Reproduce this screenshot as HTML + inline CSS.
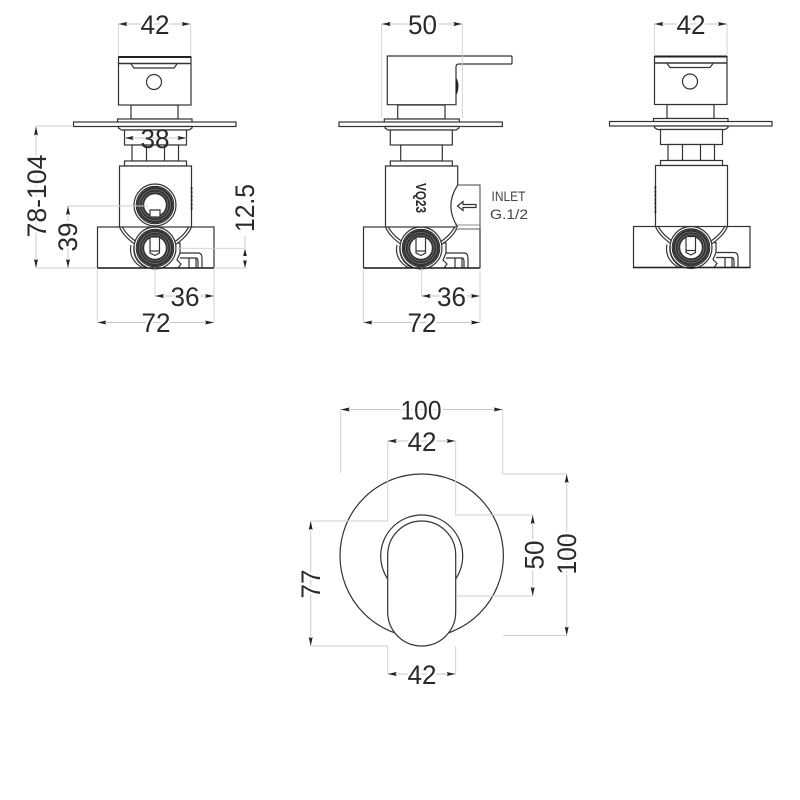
<!DOCTYPE html>
<html>
<head>
<meta charset="utf-8">
<style>
html,body{margin:0;padding:0;background:#fff;width:800px;height:800px;overflow:hidden}
svg{display:block}
text{font-family:"Liberation Sans",sans-serif;fill:#2a2a2a}
.d{font-size:27px;text-anchor:middle;paint-order:stroke;stroke:#fff;stroke-width:5px}
.n{font-size:27px;text-anchor:middle}
.s{fill:none;stroke:#333;stroke-width:1.2}
.w{fill:#fff;stroke:#333;stroke-width:1.2}
.e{fill:none;stroke:#cfcfcf;stroke-width:.9}
.a{fill:none;stroke:#c6c6c6;stroke-width:.9;marker-start:url(#ar);marker-end:url(#ar)}
</style>
</head>
<body>
<svg width="800" height="800" viewBox="0 0 800 800" xmlns="http://www.w3.org/2000/svg">
<defs>
<marker id="ar" viewBox="0 0 9 4" refX="9" refY="2" markerWidth="9" markerHeight="4" markerUnits="userSpaceOnUse" orient="auto-start-reverse">
<path d="M9 2L0 0L1.2 2L0 4Z" fill="#222"/>
</marker>
<g id="ring">
<circle r="21" fill="#fff" stroke="#333" stroke-width="1.2"/>
<circle r="18.8" fill="#fff" stroke="#222" stroke-width="1"/>
<circle r="14.5" fill="none" stroke="#333" stroke-width="7.400"/>
<circle r="15.500" fill="none" stroke="#8a8a8a" stroke-width=".6"/>
<circle r="13" fill="none" stroke="#8a8a8a" stroke-width=".6"/>
</g>
<g id="low">
<rect x="97.5" y="227" width="116.5" height="41" class="w" stroke-width="1.4"/>
<path class="s" d="M119.5 227C123 235 129 240 136 245M122 226.5C126 234 131 238 138 243M191.5 227C188 235 182 240 175 245M189 226.5C185 234 180 238 173 243"/>
<path class="s" d="M131 245C129 254 133 263 143 268M134 246C133 254 136 262 146 268" stroke-width="1"/>
<path class="s" d="M177 243H180V253L177 260L181 264L178 268"/>
<path class="s" d="M180 253H198Q202 253 202 258V268M180 258H196Q198 258 198 262V268M189 258V268M196 258V268"/>
<use href="#ring" x="155" y="248"/>
<path class="w" d="M150 237H159.5V253L155 255.5L150 253Z" stroke-width="1"/>
<path class="s" d="M150 251H159.5" stroke-width=".7"/>
<line x1="97" y1="268" x2="214" y2="268" stroke="#222" stroke-width="1.5"/>
</g>
<g id="top">
<path class="w" d="M131 105H178V119H131Z"/>
<rect x="118.5" y="57" width="72.5" height="48" class="w"/>
<path d="M118.5 57H191" stroke="#222" stroke-width="2" fill="none"/>
<path d="M118.5 63.5H191" stroke="#333" stroke-width="1.6" fill="none"/>
<path class="s" d="M131 64L134 68H174L177 64"/>
<circle cx="154" cy="82" r="7.5" class="w"/>
<rect x="117.5" y="119" width="74.5" height="3.5" class="w"/>
<rect x="73.5" y="122" width="162.5" height="4.5" class="w"/>
<path class="w" d="M118.5 126.5H192V128L189 130H121.5L118.5 128Z"/>
<rect x="124.5" y="130" width="62" height="15" class="w"/>
<rect x="132" y="145" width="46.5" height="16" class="w"/>
<path class="s" d="M146.5 145V161M164.5 145V161"/>
<rect x="124.5" y="161" width="62" height="5" class="w"/>
<path class="w" d="M119.5 228V166H191.5V228"/>
</g>
</defs>

<!-- LEFT VIEW -->
<use href="#top"/>
<path d="M191.6 187V210" stroke="#222" stroke-width="1.6" stroke-dasharray="3 1"/>
<use href="#low"/>
<use href="#ring" x="155" y="205"/>
<path class="w" d="M150 210H160V217H150Z" stroke-width="1"/>
<line class="e" x1="68" y1="206" x2="148" y2="206"/>

<path class="e" d="M118.3 24V56M190.7 24V56"/>
<line class="a" x1="118.3" y1="24" x2="190.7" y2="24"/>
<text class="d" x="155" y="34" textLength="29" lengthAdjust="spacingAndGlyphs">42</text>
<line class="a" x1="124.5" y1="138" x2="186.5" y2="138"/>
<text class="n" x="155" y="148" textLength="29" lengthAdjust="spacingAndGlyphs">38</text>

<path class="e" d="M36 126H72M36 268H97M214 268H247M176 248.3H245"/>
<line class="a" x1="36" y1="126.5" x2="36" y2="268"/>
<text class="d" transform="translate(46 196) rotate(-90)" textLength="83" lengthAdjust="spacingAndGlyphs">78-104</text>
<line class="a" x1="68" y1="206" x2="68" y2="268"/>
<text class="d" transform="translate(77 237) rotate(-90)" textLength="29" lengthAdjust="spacingAndGlyphs">39</text>
<path d="M245 236V248" stroke="#c6c6c6" stroke-width=".9"/>
<path d="M245 248.5L243.2 256H246.8ZM245 268L243.2 260.5H246.8Z" fill="#222"/>
<text class="n" transform="translate(254 208) rotate(-90)" textLength="48" lengthAdjust="spacingAndGlyphs">12.5</text>

<path class="e" d="M155 268V296M214 268V322M97.3 268V322"/>
<line class="a" x1="155" y1="296" x2="214" y2="296"/>
<text class="d" x="185" y="306" textLength="29" lengthAdjust="spacingAndGlyphs">36</text>
<line class="a" x1="97.3" y1="322.5" x2="214" y2="322.5"/>
<text class="d" x="156" y="332" textLength="29" lengthAdjust="spacingAndGlyphs">72</text>

<!-- MIDDLE VIEW -->
<path class="w" d="M397.7 105H445V119H397.7Z"/>
<path class="w" d="M387.3 56H511Q512 56 512 57V63Q512 64 511 64H459Q456 64 456 67V104.7H387.3Z"/>
<path d="M456.5 79Q459.5 86 456.5 94Z" fill="#222" stroke="#222"/>
<rect x="384.3" y="119" width="75" height="3.5" class="w"/>
<rect x="339" y="122" width="163.300" height="4.500" class="w"/>
<path class="w" d="M385 126.500H459V128L456 130H388L385 128Z"/>
<rect x="390.300" y="130" width="62" height="15" class="w"/>
<rect x="400.700" y="145" width="41.600" height="16" class="w"/>
<rect x="390.300" y="161" width="62" height="5" class="w"/>
<path class="w" d="M385.500 228V166H457.700V228"/>
<use href="#low" x="266"/>
<path d="M457 185H480V229H457" fill="#fff" stroke="#444" stroke-width="1"/>
<path d="M455 225H480M455 229H480" stroke="#666" stroke-width=".8" fill="none"/>
<path d="M457.700 185Q444 206 457.700 227" fill="#fff" stroke="#333" stroke-width="1.200"/>
<path class="w" d="M457.500 206L463 201.500V204.500H476V207.500H463V210.500Z"/>
<text transform="translate(416 198) rotate(90)" font-size="15" font-weight="700" text-anchor="middle" textLength="30" lengthAdjust="spacingAndGlyphs">VQ23</text>
<text x="491.500" y="201" font-size="14" textLength="34" lengthAdjust="spacingAndGlyphs" style="fill:#444">INLET</text>
<text x="490" y="219" font-size="14" textLength="38" lengthAdjust="spacingAndGlyphs" style="fill:#444">G.1/2</text>

<path class="e" d="M381.700 24V118M462.300 24V118"/>
<line class="a" x1="381.700" y1="24" x2="462.300" y2="24"/>
<text class="d" x="422.500" y="34" textLength="29" lengthAdjust="spacingAndGlyphs">50</text>
<path class="e" d="M421.700 268V296M480 268V322M363.300 268V322"/>
<line class="a" x1="421.700" y1="296" x2="480" y2="296"/>
<text class="d" x="451.500" y="306" textLength="29" lengthAdjust="spacingAndGlyphs">36</text>
<line class="a" x1="363.300" y1="322.500" x2="480" y2="322.500"/>
<text class="d" x="422" y="332" textLength="29" lengthAdjust="spacingAndGlyphs">72</text>

<!-- RIGHT VIEW -->
<use href="#top" x="536" y="-.5"/>
<path d="M655.400 186V214" stroke="#222" stroke-width="1.600" stroke-dasharray="3 1"/>
<use href="#low" x="536" y="-.5"/>
<path class="e" d="M654.300 24V55M727 24V55"/>
<line class="a" x1="654.300" y1="24" x2="727" y2="24"/>
<text class="d" x="691" y="34" textLength="29" lengthAdjust="spacingAndGlyphs">42</text>

<!-- FRONT VIEW -->
<circle cx="421.700" cy="555.700" r="81.700" fill="#fff" stroke="#333" stroke-width="1.200"/>
<circle cx="421.700" cy="556" r="41" fill="#fff" stroke="#333" stroke-width="1.200"/>
<path class="w" d="M387.700 555A34 34 0 0 1 455.700 555V612A34 34 0 0 1 387.700 612Z" stroke-width="1.300"/>

<path class="e" d="M340.700 410V473M502.700 410V474H566.700M503 635.500H566.700M387.700 441V521H311M387.700 646H311M455.700 441V515H532.700M456 596H532.700M387.700 646V674M455.700 646V674"/>
<line class="a" x1="340.700" y1="409.500" x2="502.700" y2="409.500"/>
<text class="d" x="421" y="419.500" textLength="41" lengthAdjust="spacingAndGlyphs">100</text>
<line class="a" x1="387.700" y1="441" x2="455.700" y2="441"/>
<text class="d" x="422" y="451" textLength="29" lengthAdjust="spacingAndGlyphs">42</text>
<line class="a" x1="566.700" y1="474" x2="566.700" y2="635.500"/>
<text class="d" transform="translate(576 554) rotate(-90)" textLength="41" lengthAdjust="spacingAndGlyphs">100</text>
<line class="a" x1="532.700" y1="515" x2="532.700" y2="596"/>
<text class="d" transform="translate(543.500 555) rotate(-90)" textLength="29" lengthAdjust="spacingAndGlyphs">50</text>
<line class="a" x1="310.700" y1="521" x2="310.700" y2="646"/>
<text class="d" transform="translate(320 584) rotate(-90)" textLength="29" lengthAdjust="spacingAndGlyphs">77</text>
<line class="a" x1="387.700" y1="674" x2="455.700" y2="674"/>
<text class="d" x="422" y="684" textLength="29" lengthAdjust="spacingAndGlyphs">42</text>
</svg>
</body>
</html>
